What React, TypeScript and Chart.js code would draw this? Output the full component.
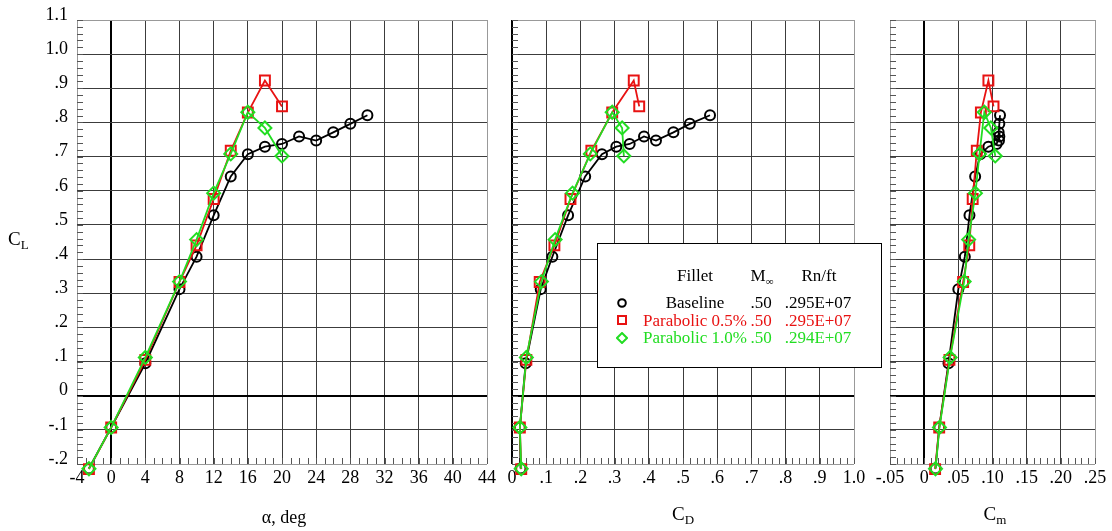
import React, { useEffect, useRef } from "react";
import { Chart, registerables } from "chart.js";
Chart.register(...registerables);

const FONT = '"Liberation Serif", "Times New Roman", serif';

// ---------- data ----------
const alphaBase = [-2.6, 0, 4, 8, 10, 12, 14, 16, 18, 20, 22, 24, 26, 28, 30];
const clBase = [-0.213, -0.093, 0.095, 0.312, 0.407, 0.528, 0.642, 0.707, 0.729, 0.737, 0.759, 0.747, 0.771, 0.796, 0.821];
const cdBase = [0.025, 0.023, 0.040, 0.084, 0.118, 0.164, 0.214, 0.263, 0.305, 0.344, 0.386, 0.421, 0.472, 0.520, 0.579];
const cmBase = [0.0166, 0.022, 0.0356, 0.050, 0.0595, 0.0663, 0.0746, 0.082, 0.094, 0.106, 0.110, 0.1095, 0.109, 0.110, 0.111];

const alphaP05 = [-2.6, 0, 4, 8, 10, 12, 14, 16, 18, 20];
const clP05 = [-0.215, -0.093, 0.105, 0.333, 0.440, 0.576, 0.717, 0.829, 0.923, 0.847];
const cdP05 = [0.027, 0.023, 0.042, 0.081, 0.124, 0.171, 0.232, 0.293, 0.356, 0.372];
const cmP05 = [0.016, 0.022, 0.037, 0.057, 0.066, 0.071, 0.077, 0.083, 0.094, 0.1015];

const alphaP10 = [-2.6, 0, 4, 8, 10, 12, 14, 16, 18, 20];
const clP10 = [-0.214, -0.093, 0.112, 0.334, 0.457, 0.593, 0.708, 0.830, 0.784, 0.702];
const cdP10 = [0.027, 0.023, 0.042, 0.086, 0.126, 0.177, 0.229, 0.293, 0.322, 0.327];
const cmP10 = [0.0166, 0.0224, 0.038, 0.0585, 0.065, 0.075, 0.081, 0.088, 0.0976, 0.104];

const legendRows = [
  { name: "Baseline", mach: ".50", rn: ".295E+07" },
  { name: "Parabolic 0.5%", mach: ".50", rn: ".295E+07" },
  { name: "Parabolic 1.0%", mach: ".50", rn: ".294E+07" },
];

const BLACK = "#000000";
const RED = "#e81212";
const GREEN = "#22dd22";
const seriesColors = [BLACK, RED, GREEN];
const seriesStyles = ["circle", "rect", "rectRot"];
const seriesRadius = [5, 7, 6.5];

const Y_MIN = -0.2;
const Y_MAX = 1.1;

// ---------- helpers ----------
const fmt = (v: number, dec: number) => {
  const r = Math.round(v * 1e6) / 1e6;
  if (Math.abs(r) < 1e-9) return "0";
  return r.toFixed(dec).replace(/^(-?)0\./, "$1.");
};

const minorPlugin = {
  id: "minorTicks",
  beforeDatasetsDraw(chart: any, _a: any, opts: any) {
    const { ctx, chartArea: a, scales } = chart;
    const xs = scales.x;
    const ys = scales.y;
    ctx.save();
    ctx.strokeStyle = "#555";
    ctx.lineWidth = 1;
    ctx.beginPath();
    const nX = Math.round((xs.max - xs.min) / opts.xStep);
    for (let i = 0; i <= nX; i++) {
      const px = Math.round(xs.getPixelForValue(xs.min + i * opts.xStep)) + 0.5;
      ctx.moveTo(px, a.bottom);
      ctx.lineTo(px, a.bottom - 6);
    }
    const nY = Math.round((ys.max - ys.min) / opts.yStep);
    for (let i = 0; i <= nY; i++) {
      const py = Math.round(ys.getPixelForValue(ys.min + i * opts.yStep)) + 0.5;
      ctx.moveTo(a.left, py);
      ctx.lineTo(a.left + 6, py);
    }
    ctx.stroke();
    ctx.restore();
  },
};

type PanelProps = {
  left: number;
  width: number;
  yW: number;
  padR: number;
  xMin: number;
  xMax: number;
  xStep: number;
  xMinor: number;
  xDec: number;
  showY: boolean;
  xs: number[][];
  ys: number[][];
};

function Panel(p: PanelProps) {
  const ref = useRef<HTMLCanvasElement>(null);
  useEffect(() => {
    if (!ref.current) return;
    const near = (a: number, b: number) => Math.abs(a - b) < 1e-9;
    const gridColor = (min: number, max: number) => (c: any) => {
      const v = c.tick ? c.tick.value : NaN;
      if (near(v, 0)) return "#000";
      if (near(v, min) || near(v, max)) return "#999";
      return "#3c3c3c";
    };
    const gridWidth = (c: any) => (c.tick && near(c.tick.value, 0) ? 2 : 1);
    const datasets = p.xs.map((xv, k) => ({
      label: "s" + k,
      data: xv.map((x, i) => ({ x, y: p.ys[k][i] })),
      showLine: true,
      borderColor: seriesColors[k],
      backgroundColor: "rgba(0,0,0,0)",
      borderWidth: 1.8,
      pointStyle: seriesStyles[k],
      pointRadius: seriesRadius[k],
      pointBorderWidth: 2,
      pointBorderColor: seriesColors[k],
      pointBackgroundColor: "rgba(0,0,0,0)",
      tension: 0,
      clip: false,
      order: 3 - k,
    }));
    const chart = new Chart(ref.current, {
      type: "scatter",
      data: { datasets } as any,
      plugins: [minorPlugin],
      options: {
        animation: false,
        responsive: false,
        events: [],
        layout: { padding: { top: 20, right: p.padR, left: 0, bottom: 0 } },
        plugins: {
          legend: { display: false },
          tooltip: { enabled: false },
          minorTicks: { xStep: p.xMinor, yStep: 0.02 },
        } as any,
        scales: {
          x: {
            type: "linear",
            min: p.xMin,
            max: p.xMax,
            border: { display: false },
            grid: { drawTicks: false, color: gridColor(p.xMin, p.xMax), lineWidth: gridWidth },
            ticks: {
              stepSize: p.xStep,
              autoSkip: false,
              maxRotation: 0,
              padding: 3,
              color: "#000",
              font: { family: FONT, size: 18 },
              callback: (v: any) => fmt(Number(v), p.xDec),
            },
            afterFit: (s: any) => {
              s.height = 67;
            },
          },
          y: {
            type: "linear",
            min: Y_MIN,
            max: Y_MAX,
            border: { display: false },
            grid: { drawTicks: false, color: gridColor(Y_MIN, Y_MAX), lineWidth: gridWidth },
            ticks: {
              display: p.showY,
              stepSize: 0.1,
              autoSkip: false,
              padding: 9,
              labelOffset: -5,
              color: "#000",
              font: { family: FONT, size: 18 },
              callback: (v: any) => fmt(Number(v), 1),
            },
            afterFit: (s: any) => {
              s.width = p.yW;
            },
          },
        },
      } as any,
    });
    return () => chart.destroy();
  }, []);
  return (
    <canvas
      ref={ref}
      width={p.width}
      height={531}
      style={{ position: "absolute", left: p.left, top: 0, width: p.width, height: 531 }}
    />
  );
}

const txt: React.CSSProperties = {
  position: "absolute",
  fontFamily: FONT,
  fontSize: 17,
  lineHeight: "17px",
  whiteSpace: "nowrap",
  color: "#000",
};

function Centered(props: { cx: number; top: number; color?: string; size?: number; children: any }) {
  return (
    <div
      style={{
        ...txt,
        left: props.cx - 100,
        width: 200,
        textAlign: "center",
        top: props.top,
        color: props.color || "#000",
        fontSize: props.size || 17,
      }}
    >
      {props.children}
    </div>
  );
}

function Marker({ k, cx, cy }: { k: number; cx: number; cy: number }) {
  const c = seriesColors[k];
  let shape: any;
  if (k === 0) shape = <circle cx={6} cy={6} r={3.8} fill="none" stroke={c} strokeWidth={2} />;
  else if (k === 1) shape = <rect x={2} y={2} width={8} height={8} fill="none" stroke={c} strokeWidth={2} />;
  else shape = <polygon points="6,1 11,6 6,11 1,6" fill="none" stroke={c} strokeWidth={2} />;
  return (
    <svg width={12} height={12} style={{ position: "absolute", left: cx - 6, top: cy - 6 }}>
      {shape}
    </svg>
  );
}

export default function App() {
  const rowTops = [294, 311.5, 329];
  return (
    <div style={{ position: "absolute", left: 0, top: 0, width: 1112, height: 531, background: "#fff", overflow: "hidden" }}>
      <Panel
        left={0}
        width={500}
        yW={77}
        padR={13}
        xMin={-4}
        xMax={44}
        xStep={4}
        xMinor={1}
        xDec={0}
        showY={true}
        xs={[alphaBase, alphaP05, alphaP10]}
        ys={[clBase, clP05, clP10]}
      />
      <Panel
        left={490}
        width={390}
        yW={22}
        padR={26}
        xMin={0}
        xMax={1.0}
        xStep={0.1}
        xMinor={0.02}
        xDec={1}
        showY={false}
        xs={[cdBase, cdP05, cdP10]}
        ys={[clBase, clP05, clP10]}
      />
      <Panel
        left={870}
        width={242}
        yW={20}
        padR={17}
        xMin={-0.05}
        xMax={0.25}
        xStep={0.05}
        xMinor={0.01}
        xDec={2}
        showY={false}
        xs={[cmBase, cmP05, cmP10]}
        ys={[clBase, clP05, clP10]}
      />

      {/* axis titles */}
      <div style={{ ...txt, left: 8, top: 230, fontSize: 19 }}>
        C<span style={{ fontSize: 13, position: "relative", top: 4 }}>L</span>
      </div>
      <Centered cx={284} top={509} size={18}>α, deg</Centered>
      <Centered cx={683} top={505} size={19}>
        C<span style={{ fontSize: 13, position: "relative", top: 4 }}>D</span>
      </Centered>
      <Centered cx={995} top={505} size={19}>
        C<span style={{ fontSize: 13, position: "relative", top: 4 }}>m</span>
      </Centered>

      {/* legend */}
      <div
        style={{
          position: "absolute",
          left: 597,
          top: 243,
          width: 283,
          height: 123,
          border: "1px solid #000",
          background: "#fff",
        }}
      />
      <Centered cx={695} top={266.5}>Fillet</Centered>
      <Centered cx={762} top={266.5}>
        M<span style={{ fontSize: 11, position: "relative", top: 4 }}>∞</span>
      </Centered>
      <Centered cx={819} top={266.5}>Rn/ft</Centered>
      {legendRows.map((r, k) => (
        <React.Fragment key={k}>
          <Marker k={k} cx={622} cy={rowTops[k] + 8.5} />
          <Centered cx={695} top={rowTops[k]} color={seriesColors[k]}>
            {r.name}
          </Centered>
          <Centered cx={761} top={rowTops[k]} color={seriesColors[k]}>
            {r.mach}
          </Centered>
          <Centered cx={818} top={rowTops[k]} color={seriesColors[k]}>
            {r.rn}
          </Centered>
        </React.Fragment>
      ))}
    </div>
  );
}
